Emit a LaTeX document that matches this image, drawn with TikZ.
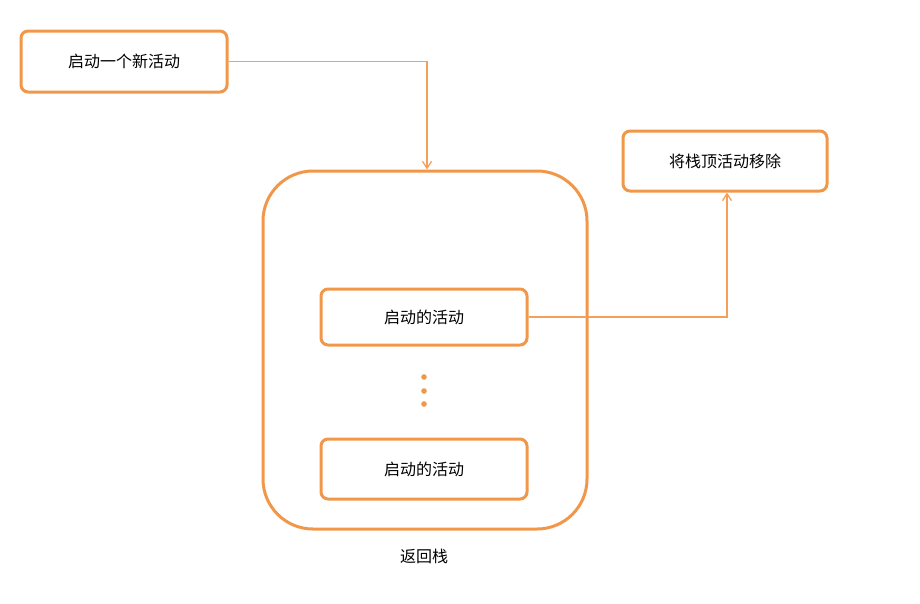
\documentclass[tikz,border=0pt]{standalone}
\usepackage{fontspec}
\setmainfont{Noto Sans CJK SC}
\usetikzlibrary{arrows.meta}
\definecolor{org}{HTML}{F0974A}
\definecolor{lorg}{HTML}{F4A05A}
\begin{document}
\begin{tikzpicture}[x=1pt,y=-1pt,
  box/.style={draw=org,line width=3pt,rounded corners=7pt,fill=white,font=\fontsize{16}{19}\selectfont},
  conn/.style={draw=lorg,line width=1.3pt,-{Straight Barb[length=7pt,width=9pt]}}]
\useasboundingbox (0,0) rectangle (920,603);
\node[box,minimum width=206pt,minimum height=61pt] (new) at (124,61.5) {启动一个新活动};
\node[box,minimum width=324pt,minimum height=358pt,rounded corners=50pt] (stack) at (425,350) {};
\node[box,minimum width=204pt,minimum height=60pt] (rm) at (725,161) {将栈顶活动移除};
\node[box,minimum width=206pt,minimum height=56pt] (a1) at (424,317) {启动的活动};
\node[box,minimum width=206pt,minimum height=60pt] (a2) at (424,469) {启动的活动};
\node[font=\fontsize{16}{19}\selectfont] (lbl) at (424,556) {返回栈};
\foreach \y/\n in {377/d1,391/d2,404/d3} \fill[org] (424,\y) circle (2.8pt) coordinate (\n);
\coordinate (c1) at (427,61.5);
\coordinate (c2) at (727,317);
\draw[conn] (new.east) -- (c1) -- (stack.north -| c1);
\draw[conn] (a1.east) -- (c2) -- (rm.south -| c2);
\end{tikzpicture}
\end{document}
